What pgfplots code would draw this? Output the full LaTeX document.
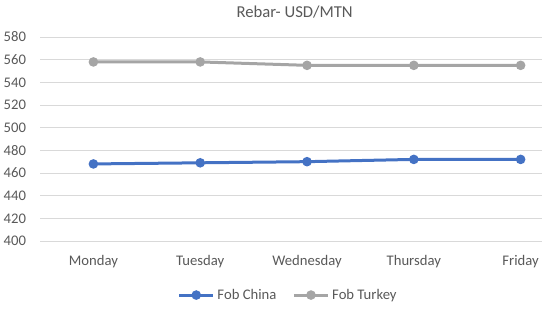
\documentclass[border=0pt]{standalone}
\usepackage{pgfplots}
\pgfplotsset{compat=1.18}
\usepackage{fontspec}
\setmainfont{Carlito}
\definecolor{cblue}{HTML}{4472C4}
\definecolor{cgray}{HTML}{A5A5A5}
\definecolor{ctext}{HTML}{595959}
\definecolor{cgrid}{HTML}{D9D9D9}
\begin{document}
\begin{tikzpicture}
\useasboundingbox (0,0) rectangle (406.5pt,231pt);
\begin{axis}[
  at={(30pt,50.25pt)}, anchor=south west,
  scale only axis, width=376.5pt, height=153pt,
  xmin=-0.5, xmax=4.2, ymin=400, ymax=580,
  ytick={400,420,...,580},
  xtick={0,1,2,3,4},
  xticklabels={Monday,Tuesday,Wednesday,Thursday,Friday},
  ymajorgrids, major grid style={cgrid, line width=0.75pt},
  axis line style={draw=none},
  major tick length=0pt,
  tick label style={font=\fontsize{11pt}{13pt}\selectfont, text=ctext},
  /pgf/number format/assume math mode=true,
  xticklabel style={yshift=-7pt},
  yticklabel style={xshift=-7pt},
  clip=false,
  legend columns=2,
  legend style={at={(0.495,-0.265)}, anchor=center, draw=none, fill=none,
    font=\fontsize{11pt}{13pt}\selectfont, text=ctext,
    /tikz/every even column/.append style={column sep=10pt}},
  legend image code/.code={\draw[#1] (0pt,0pt) -- (0.9cm,0pt); \draw[#1, mark repeat=1] plot coordinates {(0.45cm,0pt)};},
]
\addplot[cblue, line width=2.25pt, mark=*, mark size=2.4pt] coordinates {(0,468) (1,469) (2,470) (3,472) (4,472)};
\addlegendentry{Fob China}
\addplot[cgray, line width=2.25pt, mark=*, mark size=2.4pt] coordinates {(0,558) (1,558) (2,555) (3,555) (4,555)};
\addlegendentry{Fob Turkey}
\end{axis}
\node[text=ctext, font=\fontsize{12.5pt}{15pt}\selectfont] at (221pt,222pt) {Rebar- USD/MTN};
\end{tikzpicture}
\end{document}
